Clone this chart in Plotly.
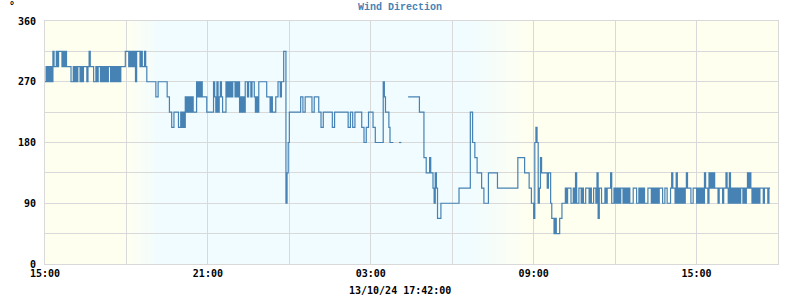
import plotly.graph_objects as go
from datetime import datetime, timedelta

# Wind direction readings (degrees), one list per clock hour
# 12/10/24 15:00 ... 13/10/24 17:42
d1_h15 = [270, 292.5, 270, 292.5, 270, 292.5, 270, 315, 292.5, 292.5, 315, 292.5, 315, 315, 315, 292.5, 315, 292.5, 315, 292.5, 292.5, 292.5, 292.5, 270]
d1_h16 = [270, 292.5, 270, 292.5, 270, 292.5, 292.5, 270, 292.5, 270, 292.5, 292.5, 292.5, 270, 292.5, 315, 292.5, 292.5, 292.5, 270, 270, 292.5, 270, 292.5]
d1_h17 = [292.5, 270, 292.5, 270, 292.5, 270, 292.5, 270, 292.5, 292.5, 270, 292.5, 270, 292.5, 270, 292.5, 270, 292.5, 270, 292.5, 292.5, 292.5, 292.5, 315]
d1_h18 = [315, 315, 292.5, 315, 292.5, 315, 292.5, 315, 270, 315, 315, 315, 292.5, 315, 292.5, 292.5, 315, 292.5, 270, 270, 270, 270, 270, 270]
d1_h19 = [270, 247.5, 270, 270, 270, 270, 247.5, 225, 202.5, 225, 225, 202.5]
d1_h20 = [225, 202.5, 225, 202.5, 247.5, 225, 247.5, 225, 247.5, 225, 247.5, 225, 225, 225, 270, 247.5, 270, 247.5, 270, 247.5, 247.5, 247.5, 247.5, 225]
d1_h21 = [225, 225, 225, 225, 225, 270, 247.5, 225, 270, 225, 247.5, 270, 247.5, 225, 225, 225, 270, 247.5, 270, 247.5, 270, 247.5, 270, 270]
d1_h22 = [247.5, 270, 247.5, 270, 225, 247.5, 225, 247.5, 225, 270, 270, 247.5, 270, 270, 247.5, 270, 270, 247.5, 225, 247.5, 225, 270, 270, 270]
d1_h23 = [270, 270, 270, 270, 247.5, 247.5, 247.5, 225, 247.5, 225, 225, 225, 247.5, 247.5, 270, 270, 247.5, 270, 270, 315, 315, 90, 135, 180]
d2_h00 = [225, 225, 225, 225, 225, 247.5, 225, 247.5, 247.5, 247.5, 225, 247.5]
d2_h01 = [247.5, 225, 202.5, 225, 225, 225, 225, 202.5, 225, 225, 225, 225]
d2_h02 = [225, 225, 202.5, 225, 202.5, 225, 225, 225, 202.5, 180, 202.5, 225]
d2_h03 = [225, 225, 202.5, 202.5, 180, 180, 180, 180, 180, 180, 180, 270, 247.5, 225, 225, 225, 202.5, 180, 180, 180, 180, None, None, None]
d2_h04 = [None, 180, 180, 180, None, None, None, None, None, 247.5, 247.5, 247.5, 247.5, 247.5, 247.5, 247.5, 247.5, 247.5, 247.5, 225, 225, 225, 225, 157.5]
d2_h05 = [157.5, 135, 135, 135, 157.5, 135, 135, 112.5, 90, 135, 112.5, 67.5, 67.5, 67.5, 90, 90, 90, 90, 90, 90, 90, 90, 90, 90]
d2_h06 = [90, 90, 90, 112.5, 112.5, 112.5, 112.5, 112.5, 225, 180, 157.5, 135]
d2_h07 = [135, 112.5, 90, 90, 135, 135, 135, 135, 112.5, 112.5, 112.5, 112.5]
d2_h08 = [112.5, 112.5, 112.5, 112.5, 112.5, 157.5, 157.5, 157.5, 135, 135, 112.5, 90]
d2_h09 = [67.5, 180, 202.5, 180, 90, 112.5, 157.5, 135, 135, 135, 135, 135, 112.5, 135, 135, 90, 67.5, 67.5, 45, 67.5, 45, 45, 45, 67.5]
d2_h10 = [67.5, 90, 90, 90, 112.5, 90, 112.5, 112.5, 112.5, 90, 90, 112.5, 90, 135, 90, 90, 112.5, 112.5, 90, 112.5, 90, 90, 112.5, 112.5]
d2_h11 = [112.5, 90, 112.5, 90, 90, 112.5, 112.5, 90, 135, 67.5, 112.5, 112.5, 90, 90, 90, 112.5, 90, 112.5, 112.5, 112.5, 135, 90, 90, 112.5]
d2_h12 = [90, 112.5, 90, 112.5, 90, 112.5, 112.5, 90, 112.5, 90, 112.5, 90, 112.5, 90, 90, 90, 112.5, 112.5, 112.5, 90, 90, 112.5, 90, 112.5]
d2_h13 = [90, 112.5, 90, 90, 90, 112.5, 112.5, 112.5, 90, 112.5, 90, 112.5, 90, 112.5, 90, 112.5, 112.5, 112.5, 90, 90, 112.5, 112.5, 90, 90]
d2_h14 = [90, 112.5, 135, 112.5, 112.5, 90, 135, 90, 112.5, 90, 112.5, 90, 112.5, 90, 112.5, 135, 112.5, 112.5, 112.5, 90, 90, 112.5, 112.5, 112.5]
d2_h15 = [90, 112.5, 90, 112.5, 90, 112.5, 90, 135, 112.5, 112.5, 90, 135, 112.5, 135, 112.5, 135, 112.5, 112.5, 112.5, 90, 112.5, 112.5, 112.5, 90]
d2_h16 = [112.5, 112.5, 135, 112.5, 90, 135, 90, 112.5, 90, 112.5, 90, 112.5, 90, 112.5, 90, 112.5, 112.5, 90, 112.5, 90, 112.5, 135, 112.5, 135]
d2_h17 = [112.5, 90, 112.5, 90, 112.5, 90, 112.5, 90, 112.5, 112.5, 112.5, 90, 112.5, 112.5, 112.5, 90, 112.5, 112.5]
LAST_STEP_MIN = 2.5  # partial last hour sampled every 2.5 min

hour_blocks = [d1_h15, d1_h16, d1_h17, d1_h18, d1_h19, d1_h20, d1_h21, d1_h22, d1_h23,
               d2_h00, d2_h01, d2_h02, d2_h03, d2_h04, d2_h05, d2_h06, d2_h07, d2_h08,
               d2_h09, d2_h10, d2_h11, d2_h12, d2_h13, d2_h14, d2_h15, d2_h16, d2_h17]

x_tick_labels = ["15:00", "", "21:00", "", "03:00", "", "09:00", "", "15:00", ""]
y_tick_vals = [0, 45, 90, 135, 180, 225, 270, 315, 360]
y_tick_labels = ["0", "", "90", "", "180", "", "270", "", "360"]
caption = "13/10/24 17:42:00"

start = datetime(2024, 10, 12, 15, 0)
end = start + timedelta(hours=27)

xs, ys = [], []
for j, blk in enumerate(hour_blocks):
    step = LAST_STEP_MIN if j == len(hour_blocks) - 1 else 60.0 / len(blk)
    for i, v in enumerate(blk):
        xs.append(start + timedelta(hours=j, minutes=i * step))
        ys.append(v)

# day/night background
DAY = (255, 255, 240)
NIGHT = (240, 252, 255)

def mix(a, b, f):
    return "rgb(%d,%d,%d)" % tuple(round(a[k] + (b[k] - a[k]) * f) for k in range(3))

shapes = []
def rect(h0, h1, color):
    shapes.append(dict(type="rect", xref="x", yref="y",
                       x0=start + timedelta(hours=h0), x1=start + timedelta(hours=h1),
                       y0=0, y1=360, fillcolor=color, line=dict(width=0), layer="below"))

rect(0, 3, mix(DAY, NIGHT, 0))
N = 30
e0, e1 = 3.0, 4.2
for k in range(N):
    rect(e0 + (e1 - e0) * k / N, e0 + (e1 - e0) * (k + 1) / N + 0.01, mix(DAY, NIGHT, (k + 0.5) / N))
m0, m1 = 15.65, 17.85
rect(e1, m0 + 0.01, mix(DAY, NIGHT, 1))
for k in range(N):
    rect(m0 + (m1 - m0) * k / N, m0 + (m1 - m0) * (k + 1) / N + 0.01, mix(NIGHT, DAY, (k + 0.5) / N))
rect(m1, 27, mix(DAY, NIGHT, 0))

fig = go.Figure()
fig.add_trace(go.Scatter(x=xs, y=ys, mode="lines", line=dict(color="#4682b4", width=1.2, shape="hv"),
                         connectgaps=False, showlegend=False, hoverinfo="skip"))

tick_font = dict(family="DejaVu Sans Mono", size=10, color="#000000", weight="bold")
grid = "#d9d9d9"
fig.update_layout(
    width=800, height=300,
    margin=dict(l=45, r=22, t=21, b=36),
    paper_bgcolor="white", plot_bgcolor="white",
    shapes=shapes,
    title=dict(text="Wind Direction", x=0.5, xref="container", xanchor="center",
               y=1 - 6 / 300, yref="container", yanchor="middle",
               font=dict(family="Liberation Mono", size=10, color="#4682b4", weight="bold")),
    xaxis=dict(range=[start, end], tickmode="array",
               tickvals=[start + timedelta(hours=3 * k) for k in range(10)],
               ticktext=x_tick_labels, showgrid=True, gridcolor=grid, gridwidth=1,
               showline=True, linecolor=grid, linewidth=1, mirror=True,
               zeroline=False, ticks="", tickfont=tick_font),
    yaxis=dict(range=[0, 360], tickmode="array", tickvals=y_tick_vals, ticktext=y_tick_labels,
               showgrid=True, gridcolor=grid, gridwidth=1,
               showline=True, linecolor=grid, linewidth=1, mirror=True,
               zeroline=False, ticks="", tickfont=tick_font, ticklabelstandoff=6),
    annotations=[
        dict(text=caption, xref="paper", yref="paper", x=(400 - 45) / 733, y=-(290.5 - 264) / 243,
             xanchor="center", yanchor="middle", showarrow=False, font=tick_font),
        dict(text="°", xref="paper", yref="paper", x=(12 - 45) / 733, y=1 + (21 - 6) / 243,
             xanchor="center", yanchor="middle", showarrow=False, font=tick_font),
    ],
)

fig.write_html("out.html")
